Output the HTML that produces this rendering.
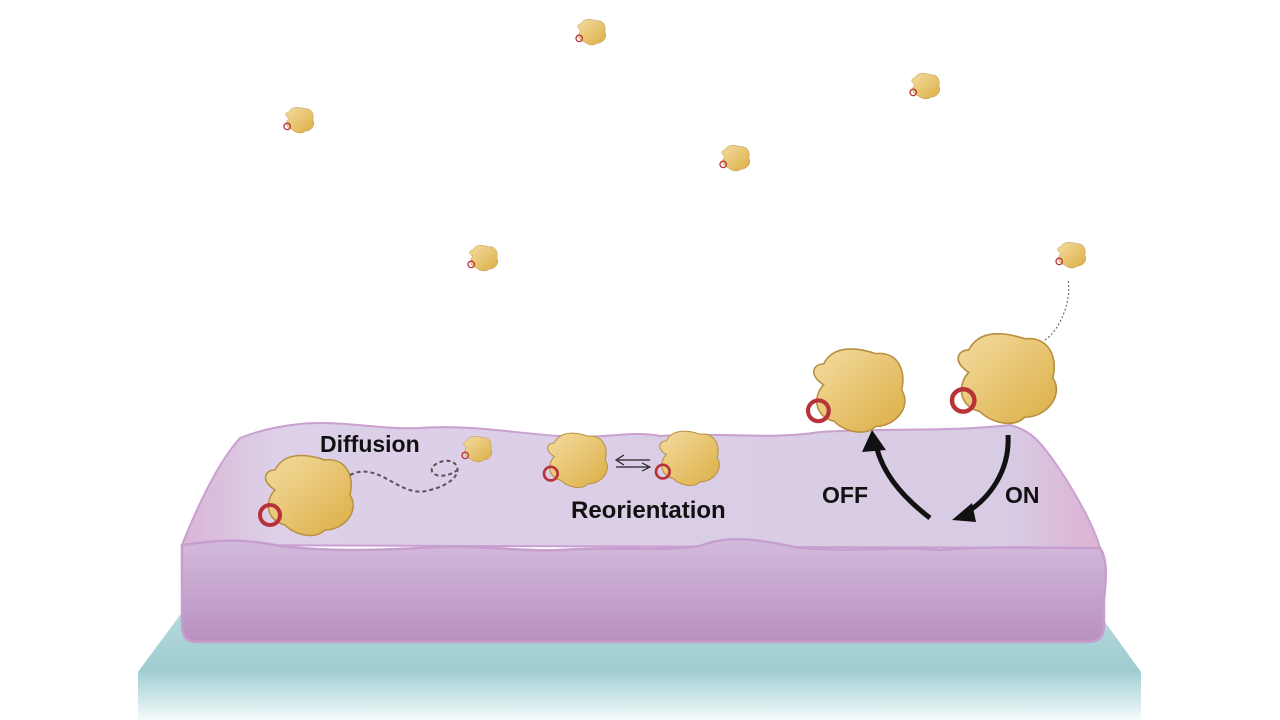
<!DOCTYPE html>
<html><head><meta charset="utf-8"><style>
html,body{margin:0;padding:0;background:#fff;width:1280px;height:720px;overflow:hidden}
svg{display:block}
text{font-family:"Liberation Sans",Arial,sans-serif;font-weight:bold;fill:#111}
</style></head><body>
<svg width="1280" height="720" viewBox="0 0 1280 720">
<defs>
<linearGradient id="glass" x1="0" y1="0" x2="0" y2="1"><stop offset="0" stop-color="#a2cfd4"/><stop offset="1" stop-color="#f4fafa"/></linearGradient>
<linearGradient id="glassTop" x1="0" y1="0" x2="0" y2="1"><stop offset="0" stop-color="#b7d9dc"/><stop offset="1" stop-color="#9ccbd0"/></linearGradient>
<linearGradient id="front" x1="0" y1="0" x2="0" y2="1"><stop offset="0" stop-color="#d3bbdc"/><stop offset="1" stop-color="#b990c0"/></linearGradient>
<linearGradient id="top" x1="0" y1="0" x2="1" y2="0"><stop offset="0" stop-color="#d9b4d6"/><stop offset="0.1" stop-color="#ddd0e8"/><stop offset="0.9" stop-color="#d8cbe4"/><stop offset="1" stop-color="#dcb3d4"/></linearGradient>
<linearGradient id="prot" x1="0" y1="0" x2="1" y2="1"><stop offset="0" stop-color="#f3dca0"/><stop offset="1" stop-color="#dcae45"/></linearGradient>
<g id="p">
<path d="M-14,-10 C-10,-18 0,-16 6,-14 C14,-15 18,-8 16,0 C20,6 14,14 6,14 C2,18 -6,16 -10,12 C-18,10 -18,2 -14,-2 C-20,-6 -18,-10 -14,-10 Z" fill="url(#prot)" stroke="#b89040" stroke-width="0.6"/>
<circle cx="-16" cy="8" r="4" fill="none" stroke="#b8323a" stroke-width="1.6"/>
</g>
</defs>
<polygon points="180,615 1100,615 1141,672 138,672" fill="url(#glassTop)"/>
<rect x="138" y="672" width="1003" height="48" fill="url(#glass)"/>
<path d="M240,438 C260,430 280,426 300,424 C340,420 380,430 420,428 C470,424 520,434 560,436 C600,440 630,430 660,436 C720,432 770,440 820,432 C880,428 950,432 1010,425 C1030,430 1040,440 1060,470 C1080,500 1095,530 1100,548 L182,545 C200,500 220,460 240,438 Z" fill="url(#top)" stroke="#c9a0d0" stroke-width="2"/>
<path d="M182,545 C220,540 240,538 280,546 C330,552 380,550 420,548 C480,544 520,552 560,550 C620,546 660,552 700,546 C730,534 760,540 800,548 C860,552 900,546 940,550 C980,546 1040,548 1100,548 C1108,560 1106,580 1104,600 L1104,625 C1104,638 1098,642 1088,642 L196,642 C186,642 182,636 182,625 Z" fill="url(#front)" stroke="#c79fcf" stroke-width="2.5"/>
<use href="#p" transform="translate(592,32) scale(0.8)"/>
<use href="#p" transform="translate(300,120) scale(0.8)"/>
<use href="#p" transform="translate(926,86) scale(0.8)"/>
<use href="#p" transform="translate(736,158) scale(0.8)"/>
<use href="#p" transform="translate(484,258) scale(0.8)"/>
<use href="#p" transform="translate(1072,255) scale(0.8)"/>
<use href="#p" transform="translate(478,449) scale(0.8)"/>
<use href="#p" transform="translate(310,495) scale(2.5)"/>
<use href="#p" transform="translate(578,460) scale(1.7)"/>
<use href="#p" transform="translate(690,458) scale(1.7)"/>
<use href="#p" transform="translate(860,390) scale(2.6)"/>
<use href="#p" transform="translate(1008,378) scale(2.8)"/>
<path d="M350,475 C380,460 400,500 430,490 C470,480 460,455 440,462 C420,470 440,485 460,468" fill="none" stroke="#555" stroke-width="2" stroke-dasharray="4,3"/>
<path d="M1045,340 C1060,330 1072,300 1068,280" fill="none" stroke="#555" stroke-width="1" stroke-dasharray="2,2"/>
<path d="M650,460 L618,460 M624,455 L616,460 L624,465 M616,467 L648,467 M642,463 L650,467 L642,471" fill="none" stroke="#222" stroke-width="1.2"/>
<path d="M930,518 C900,495 880,470 875,440" fill="none" stroke="#111" stroke-width="5"/>
<polygon points="872,430 862,452 886,450" fill="#111"/>
<path d="M1008,435 C1010,470 990,500 962,515" fill="none" stroke="#111" stroke-width="5"/>
<polygon points="952,520 972,503 976,522" fill="#111"/>
<text x="320" y="452" font-size="23">Diffusion</text>
<text x="571" y="518" font-size="24">Reorientation</text>
<text x="822" y="503" font-size="23">OFF</text>
<text x="1005" y="503" font-size="23">ON</text>
</svg>
</body></html>
